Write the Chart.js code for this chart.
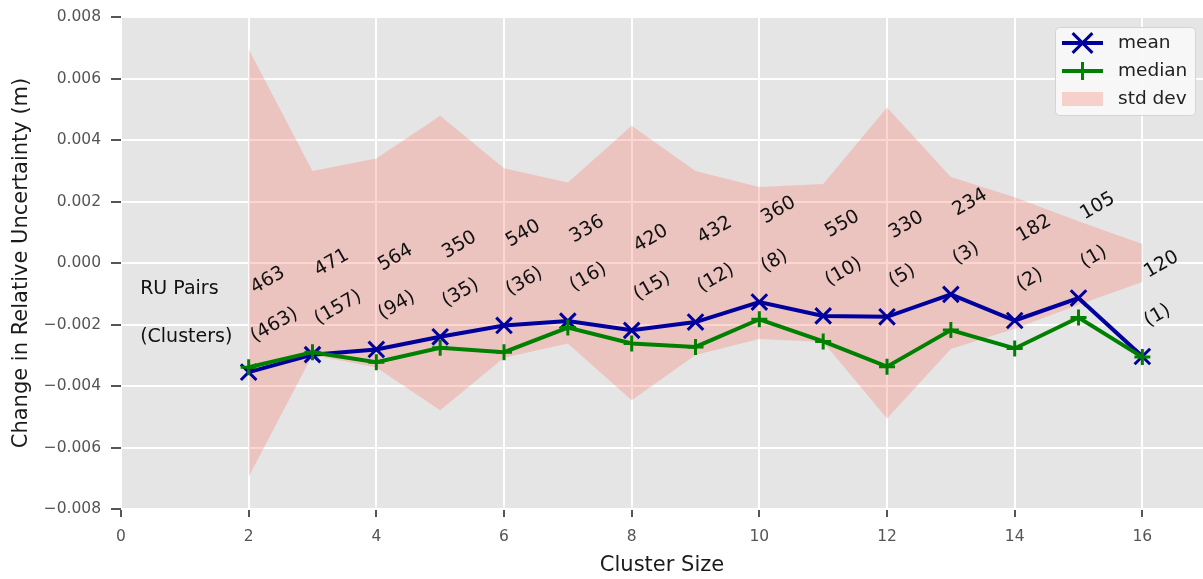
<!DOCTYPE html>
<html>
<head>
<meta charset="utf-8">
<script src="https://cdn.jsdelivr.net/npm/chart.js@4.4.1/dist/chart.umd.min.js"></script>
<style>
  html, body { margin: 0; padding: 0; background: #fff; }
  canvas { display: block; }
</style>
</head>
<body>
<canvas id="chart" width="1203" height="579"></canvas>
<script>
// Relative uncertainty change by cluster size
const clusterSizes = [2, 3, 4, 5, 6, 7, 8, 9, 10, 11, 12, 13, 14, 15, 16];
const meanVals   = [-0.00355, -0.00298, -0.00281, -0.00240, -0.00203, -0.00189, -0.00219, -0.00192, -0.00127, -0.00172, -0.00175, -0.00102, -0.00187, -0.00114, -0.00304];
const medianVals = [-0.00339, -0.00290, -0.00323, -0.00276, -0.00290, -0.00210, -0.00262, -0.00273, -0.00183, -0.00255, -0.00337, -0.00218, -0.00278, -0.00177, -0.00306];
const stdDevVals = [0.00695, 0.00299, 0.00340, 0.00479, 0.00308, 0.00262, 0.00446, 0.00299, 0.00247, 0.00257, 0.00506, 0.00280, 0.00214, 0.00136, 0.00062];
const ruPairs    = [463, 471, 564, 350, 540, 336, 420, 432, 360, 550, 330, 234, 182, 105, 120];
const clusters   = [463, 157, 94, 35, 36, 16, 15, 12, 8, 10, 5, 3, 2, 1, 1];
const xTicks = [0, 2, 4, 6, 8, 10, 12, 14, 16];
const yTicks = [-0.008, -0.006, -0.004, -0.002, 0, 0.002, 0.004, 0.006, 0.008];

const FONT = "'DejaVu Sans', sans-serif";
const C_MEAN = "#00009c";
const C_MED = "#008000";
const C_STD = "rgba(250,128,114,0.32)";

const pts = (arr) => clusterSizes.map((x, i) => ({ x, y: arr[i] }));

const plotBg = {
  id: "plotBg",
  beforeDraw(chart) {
    const { ctx, chartArea: a } = chart;
    ctx.save();
    ctx.fillStyle = "#e5e5e5";
    ctx.fillRect(a.left, a.top, a.right - a.left, a.bottom - a.top);
    ctx.restore();
  },
};

// rotated "pairs" / "(clusters)" labels above each mean point
const countLabels = {
  id: "countLabels",
  afterDatasetsDraw(chart) {
    const { ctx, scales: { x, y } } = chart;
    ctx.save();
    ctx.fillStyle = "#111";
    ctx.font = `19px ${FONT}`;
    ctx.textBaseline = "alphabetic";
    ctx.textAlign = "left";
    const lx = x.getPixelForValue(0.3);
    ctx.fillText("RU Pairs", lx, y.getPixelForValue(meanVals[0] + 0.00255));
    ctx.fillText("(Clusters)", lx, y.getPixelForValue(meanVals[0] + 0.00097));
    clusterSizes.forEach((cs, i) => {
      const px = x.getPixelForValue(cs) + 6;
      [[String(ruPairs[i]), 0.00255], [`(${clusters[i]})`, 0.00097]].forEach(([txt, off]) => {
        ctx.save();
        ctx.translate(px, y.getPixelForValue(meanVals[i] + off));
        ctx.rotate(-Math.PI / 6);
        ctx.fillText(txt, 0, 0);
        ctx.restore();
      });
    });
    ctx.restore();
  },
};

function drawMarker(ctx, style, cx, cy, r) {
  ctx.beginPath();
  if (style === "crossRot") {
    const d = r * Math.SQRT1_2;
    ctx.moveTo(cx - d, cy - d); ctx.lineTo(cx + d, cy + d);
    ctx.moveTo(cx - d, cy + d); ctx.lineTo(cx + d, cy - d);
  } else {
    ctx.moveTo(cx - r, cy); ctx.lineTo(cx + r, cy);
    ctx.moveTo(cx, cy - r); ctx.lineTo(cx, cy + r);
  }
  ctx.stroke();
}

const boxLegend = {
  id: "boxLegend",
  afterDraw(chart) {
    const { ctx, chartArea: a } = chart;
    const w = 140, h = 88;
    const left = a.right - 8 - w, top = a.top + 10;
    ctx.save();
    ctx.fillStyle = "rgba(248,248,248,0.92)";
    ctx.strokeStyle = "#d4d4d4";
    ctx.lineWidth = 1;
    ctx.beginPath();
    ctx.roundRect(left + 0.5, top + 0.5, w, h, 4);
    ctx.fill();
    ctx.stroke();

    const rows = [
      { label: "mean", color: C_MEAN, style: "crossRot", r: 14 },
      { label: "median", color: C_MED, style: "cross", r: 9 },
      { label: "std dev" },
    ];
    ctx.font = `18.5px ${FONT}`;
    ctx.textBaseline = "middle";
    rows.forEach((row, i) => {
      const cy = top + 16 + i * 28;
      const x0 = left + 7, x1 = left + 48;
      if (row.color) {
        ctx.strokeStyle = row.color;
        ctx.lineWidth = 4;
        ctx.beginPath();
        ctx.moveTo(x0, cy); ctx.lineTo(x1, cy);
        ctx.stroke();
        ctx.lineWidth = 3;
        drawMarker(ctx, row.style, (x0 + x1) / 2, cy, row.r);
      } else {
        ctx.fillStyle = C_STD;
        ctx.fillRect(x0, cy - 7, x1 - x0, 14);
      }
      ctx.fillStyle = "#222";
      ctx.fillText(row.label, left + 63, cy);
    });
    ctx.restore();
  },
};

const tickFont = { family: FONT, size: 15.5 };

new Chart(document.getElementById("chart"), {
  type: "line",
  data: {
    datasets: [
      {
        label: "mean", data: pts(meanVals), order: 2,
        borderColor: C_MEAN, backgroundColor: C_MEAN, borderWidth: 4,
        pointStyle: "crossRot", pointRadius: 11, pointBorderWidth: 3, pointBorderColor: C_MEAN,
        fill: false, tension: 0,
      },
      {
        label: "median", data: pts(medianVals), order: 1,
        borderColor: C_MED, backgroundColor: C_MED, borderWidth: 4,
        pointStyle: "cross", pointRadius: 8, pointBorderWidth: 3, pointBorderColor: C_MED,
        fill: false, tension: 0,
      },
      {
        label: "std dev", data: pts(stdDevVals), order: 3,
        borderWidth: 0, pointRadius: 0, backgroundColor: C_STD, fill: "+1",
      },
      {
        label: "std dev lower", data: pts(stdDevVals.map(v => -v)), order: 4,
        borderWidth: 0, pointRadius: 0, fill: false,
      },
    ],
  },
  options: {
    responsive: false,
    animation: false,
    devicePixelRatio: 1,
    layout: { autoPadding: false, padding: { top: 17, left: 0, right: 0, bottom: 0 } },
    plugins: { legend: { display: false }, tooltip: { enabled: false } },
    scales: {
      x: {
        type: "linear", min: 0, max: 16.95,
        afterBuildTicks: (s) => { s.ticks = xTicks.map(v => ({ value: v })); },
        afterFit: (s) => { s.height = 70; s.paddingLeft = 0; s.paddingRight = 0; },
        border: { display: false },
        grid: { color: "#ffffff", lineWidth: 2, tickLength: 8, tickColor: "#555", tickWidth: 2 },
        ticks: { color: "#555", font: tickFont, padding: 11, maxRotation: 0, callback: (v) => String(v) },
        title: { display: true, text: "Cluster Size", color: "#1a1a1a", font: { family: FONT, size: 21 }, padding: { top: 0, bottom: 1 } },
      },
      y: {
        type: "linear", min: -0.008, max: 0.008,
        afterBuildTicks: (s) => { s.ticks = yTicks.map(v => ({ value: v })); },
        afterFit: (s) => { s.width = 121; s.paddingTop = 0; s.paddingBottom = 0; },
        border: { display: false },
        grid: { color: "#ffffff", lineWidth: 2, tickLength: 10, tickColor: "#555", tickWidth: 2 },
        ticks: {
          color: "#555", font: tickFont, padding: 10,
          callback: (v) => (v < -1e-9 ? "\u2212" : "") + Math.abs(v).toFixed(3),
        },
        title: { display: true, text: "Change in Relative Uncertainty (m)", color: "#1a1a1a", font: { family: FONT, size: 21 }, padding: { top: 9, bottom: 0 } },
      },
    },
  },
  plugins: [plotBg, countLabels, boxLegend],
});
</script>
</body>
</html>
